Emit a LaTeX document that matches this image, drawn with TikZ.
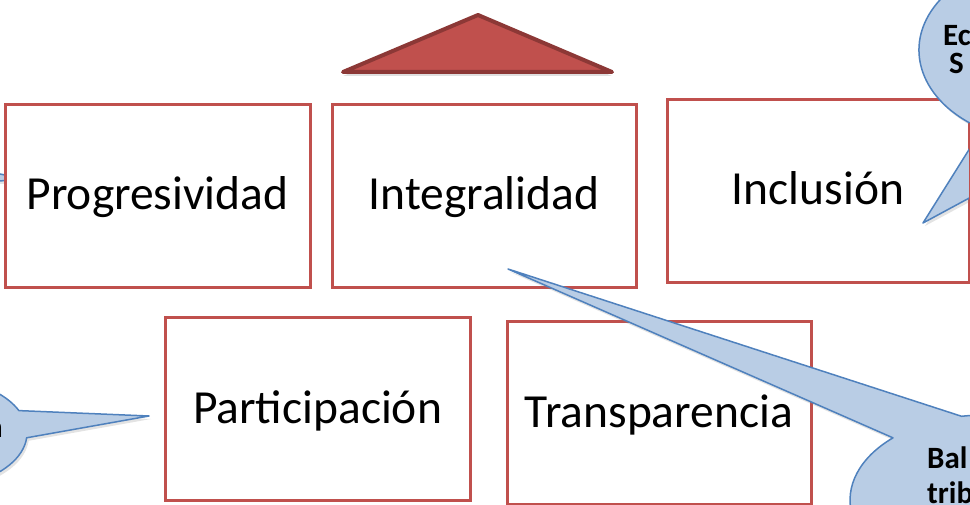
\documentclass[tikz,border=0pt]{standalone}
\usepackage{fontspec}
\setmainfont{Carlito}
\usetikzlibrary{shadows}
\definecolor{boxred}{HTML}{C0504D}
\definecolor{tridark}{HTML}{8C3836}
\definecolor{calfill}{HTML}{B9CDE5}
\definecolor{caledge}{HTML}{4F81BD}
\begin{document}
\begin{tikzpicture}[x=1pt,y=-1pt,
  pbox/.style={draw=boxred, line width=3pt, fill=white, inner sep=0pt},
  pborder/.style={draw=boxred, line width=3pt},
  plabel/.style={font=\fontsize{47.5}{52}\selectfont, anchor=base, inner sep=0pt},
  callout/.style={fill=calfill, draw=caledge, line width=1.5pt, line join=round,
    drop shadow={shadow xshift=2pt, shadow yshift=-3pt, opacity=.22}},
  ctext/.style={font=\bfseries\fontsize{31}{35}\selectfont, inner sep=0pt, anchor=base west},
  roof/.style={fill=boxred, draw=tridark, line width=4pt, line join=round,
    drop shadow={shadow xshift=0pt, shadow yshift=-4pt, opacity=.25}}]
\useasboundingbox (0,0) rectangle (970,505);
\clip (0,0) rectangle (970,505);

% left pointer (behind the first box)
\coordinate (tipB) at (30,180);
\path[callout] (-80,158) -- (tipB) -- (-80,183) -- cycle;

% boxes
\node[pbox, minimum width=305pt, minimum height=183pt] (b1) at (157.5,196.5) {};
\node[pbox, minimum width=304pt, minimum height=183pt] (b2) at (484,196.5) {};
\node[pbox, minimum width=302pt, minimum height=183pt] (b3) at (818,191.5) {};
\node[pbox, minimum width=305pt, minimum height=182pt] (b4) at (317.5,409) {};
\node[pbox, minimum width=304pt, minimum height=182pt] (b5) at (659,413) {};

\node[plabel] (t1) at (157.5,210) {Progresividad};
\node[plabel] (t2) at (484,210) {Integralidad};
\node[plabel] (t3) at (818,205) {Inclusión};
\node[plabel] (t4) at (317.5,423) {Participación};
\node[plabel] (t5) at (659,427) {Transparencia};

% roof triangle
\path[roof] (478,15) -- (612,72) -- (343,72) -- cycle;

% callouts
\coordinate (tipA) at (149,416);
\coordinate (tipC) at (923,223);
\coordinate (tipD) at (508,269);
\path[callout] (26.6,437.8) -- (tipA) -- (18.9,410.6)
  arc[start angle=-24, end angle=-355, x radius=94, y radius=55] -- cycle;
\path[callout] (1076.9,139.9) -- (tipC) -- (982,128.9)
  arc[start angle=121, end angle=437.6, x radius=130, y radius=92] -- cycle;
\path[callout] (892.9,437.8) -- (tipD) -- (961.6,416.3)
  arc[start angle=-100, end angle=227, x radius=135, y radius=85] -- cycle;

% right border of Inclusion over its callout pointer
\draw[pborder] ([yshift=-25pt]b3.north east) -- (b3.south east);

% callout texts (cut by the picture edge)
\node[ctext] (c1) at (943,46) {Ec};
\node[ctext] (c2) at (949,74) {S};
\node[ctext] (c3) at (927,468) {Bal};
\node[ctext] (c4) at (927,503) {trib};
\node[ctext, anchor=base east] (c5) at (3,437) {n};
\end{tikzpicture}
\end{document}
